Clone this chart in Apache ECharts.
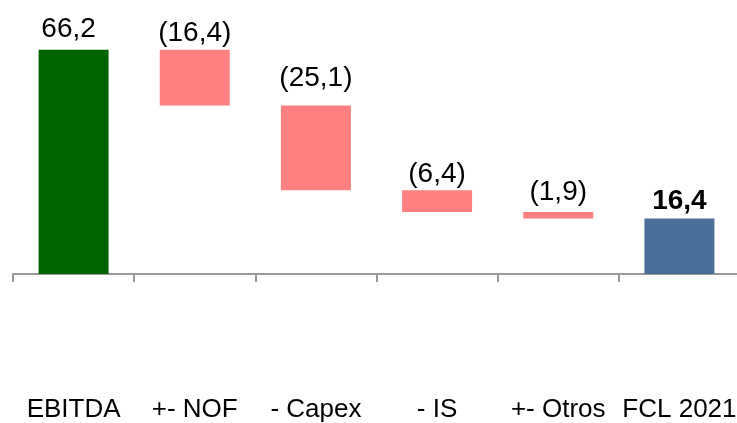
<!DOCTYPE html>
<html>
<head>
<meta charset="utf-8">
<script src="https://cdn.jsdelivr.net/npm/echarts@6/dist/echarts.min.js"></script>
<style>
html,body{margin:0;padding:0;background:#fff;}
#chart{width:737px;height:423px;}
</style>
</head>
<body>
<div id="chart"></div>
<script>
var categories = ['EBITDA', '+- NOF', '- Capex', '- IS', '+- Otros', 'FCL 2021'];
var steps = [66.2, -16.4, -25.1, -6.4, -1.9, 16.4];   // último = total
var kinds = ['start', 'delta', 'delta', 'delta', 'delta', 'total'];
var colors = {start: '#006400', delta: '#ff8080', total: '#4a6f98'};
var labelGap = [7, 3, 13, 2, 6, 3];   // separación etiqueta - barra (px)

var baseData = [];
var barData = [];
var running = 0;
for (var i = 0; i < steps.length; i++) {
    var v = steps[i];
    var base, h;
    if (kinds[i] == 'start' || kinds[i] == 'total') {
        base = 0;
        h = Math.abs(v);
        running = v;
    } else {
        if (v < 0) {
            base = running + v;
        } else {
            base = running;
        }
        h = Math.abs(v);
        running = running + v;
    }
    baseData.push(+base.toFixed(2));
    var txt = Math.abs(v).toFixed(1).replace('.', ',');
    if (v < 0) txt = '(' + txt + ')';
    barData.push({
        value: h,
        itemStyle: {color: colors[kinds[i]]},
        label: {
            formatter: txt,
            distance: labelGap[i],
            fontWeight: kinds[i] == 'total' ? 'bold' : 'normal',
            offset: [i == 0 ? -5 : 0, 0]
        }
    });
}

var chart = echarts.init(document.getElementById('chart'));
var option = {
    animation: false,
    backgroundColor: '#fff',
    grid: {
        left: 13,
        right: -3,
        top: 37,
        bottom: 149,
        containLabel: false,
        outerBoundsMode: 'none'
    },
    xAxis: {
        type: 'category',
        data: categories,
        axisLine: {show: true, lineStyle: {color: '#999', width: 2}},
        axisTick: {show: true, length: 8, alignWithLabel: false, lineStyle: {color: '#999', width: 2}},
        axisLabel: {
            show: true,
            interval: 0,
            margin: 123,
            color: '#000',
            fontSize: 26,
            fontFamily: '"Liberation Sans", Arial, sans-serif'
        },
        splitLine: {show: false}
    },
    yAxis: {
        type: 'value',
        min: 0,
        max: 70,
        show: false,
        splitLine: {show: false}
    },
    series: [
        {
            name: 'base',
            type: 'bar',
            stack: 'wf',
            barWidth: 70,
            itemStyle: {color: 'transparent'},
            emphasis: {disabled: true},
            data: baseData
        },
        {
            name: 'valor',
            type: 'bar',
            stack: 'wf',
            barWidth: 70,
            label: {
                show: true,
                position: 'top',
                color: '#000',
                fontSize: 28,
                fontFamily: '"Liberation Sans", Arial, sans-serif'
            },
            data: barData
        }
    ]
};
chart.setOption(option);
</script>
</body>
</html>
